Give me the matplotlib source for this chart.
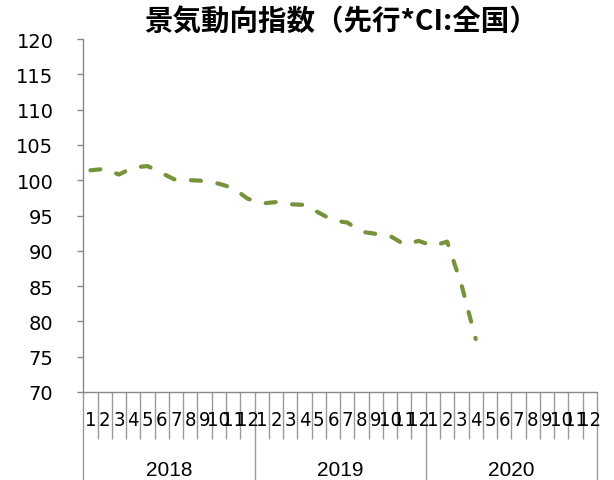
import matplotlib
matplotlib.use("Agg")
import matplotlib.pyplot as plt
import matplotlib.transforms as mtransforms

years = ["2018", "2019", "2020"]
months = [str(m) for m in range(1, 13)]
values = [101.4, 101.6, 100.8, 101.8, 102.0, 101.0, 100.0, 100.0, 99.9, 99.5, 98.9, 97.4,
          96.7, 96.9, 96.6, 96.5, 95.4, 94.3, 94.0, 92.7, 92.4, 92.1, 90.9, 91.4,
          90.7, 91.3, 85.2, 77.5]
yticks = [70, 75, 80, 85, 90, 95, 100, 105, 110, 115, 120]

W, H = 614, 481
fig = plt.figure(figsize=(W / 100, H / 100), dpi=100)
ax = fig.add_axes([83.3 / W, 1 - 393 / H, (597 - 83.3) / W, (393 - 40) / H])

n = len(years) * len(months)
xs = [i + 0.5 for i in range(len(values))]
ax.plot(xs, values, color="#76933C", lw=3, dashes=[2.4, 4.0],
        dash_capstyle="round", solid_capstyle="round")

ax.set_xlim(0, n)
ax.set_ylim(70, 120)
ax.set_yticks(yticks)
ax.tick_params(axis="y", direction="out", length=4.5, width=1, color="#888888",
               pad=17, labelsize=14)
for lab in ax.get_yticklabels():
    lab.set_fontfamily(["DejaVu Sans"])

# month ticks (minor) and year separators (major)
ax.set_xticks(range(0, n + 1, 12))
ax.set_xticks([i for i in range(n + 1) if i % 12 != 0], minor=True)
ax.set_xticklabels([])
ax.tick_params(axis="x", which="major", direction="out", length=63, width=1,
               color="#999999")
ax.tick_params(axis="x", which="minor", direction="out", length=34, width=1,
               color="#999999")

for s in ["top", "right"]:
    ax.spines[s].set_visible(False)
for s in ["left", "bottom"]:
    ax.spines[s].set_color("#888888")
    ax.spines[s].set_linewidth(1)

trans = mtransforms.blended_transform_factory(ax.transData, fig.transFigure)
for yi in range(len(years)):
    for mi, m in enumerate(months):
        x = yi * 12 + mi + 0.5
        ax.text(x, 1 - 421 / H, m, transform=trans, ha="center", va="center",
                fontsize=14.5, family=["DejaVu Sans"], fontstretch="condensed",
                color="black")
    ax.text(yi * 12 + 6, 1 - 471 / H, years[yi], transform=trans, ha="center",
            va="center", fontsize=15, family=["Liberation Sans", "DejaVu Sans"],
            color="black")

fig.text(341 / W, 1 - 23 / H, "景気動向指数（先行*CI:全国）", ha="center", va="center",
         fontsize=20.5, fontweight="bold",
         family=["Noto Sans CJK JP", "DejaVu Sans"])

fig.savefig("out.png", dpi=100)
